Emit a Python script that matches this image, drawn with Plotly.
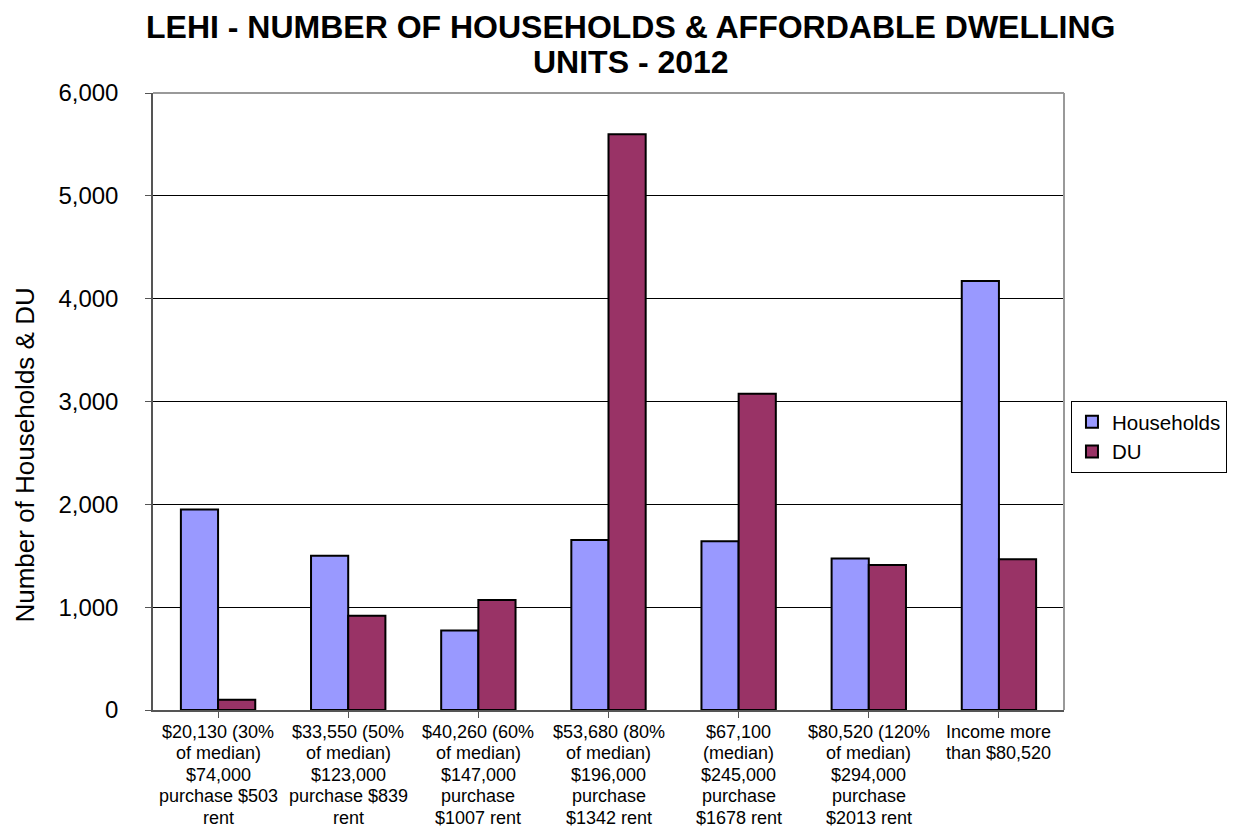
import plotly.graph_objects as go

category_lines = [
    ["$20,130 (30%", "of median)", "$74,000", "purchase $503", "rent"],
    ["$33,550 (50%", "of median)", "$123,000", "purchase $839", "rent"],
    ["$40,260 (60%", "of median)", "$147,000", "purchase", "$1007 rent"],
    ["$53,680 (80%", "of median)", "$196,000", "purchase", "$1342 rent"],
    ["$67,100", "(median)", "$245,000", "purchase", "$1678 rent"],
    ["$80,520 (120%", "of median)", "$294,000", "purchase", "$2013 rent"],
    ["Income more", "than $80,520"],
]
households = [1950, 1500, 772, 1652, 1642, 1474, 4172]
du = [100, 916, 1069, 5600, 3075, 1409, 1467]
yticks = [0, 1000, 2000, 3000, 4000, 5000, 6000]

FONT = "Liberation Sans, Arial, sans-serif"
xs = list(range(len(category_lines)))

fig = go.Figure()
fig.add_trace(go.Bar(x=xs, y=households, name="Households",
                     marker=dict(color="#9999FF", line=dict(color="black", width=2))))
fig.add_trace(go.Bar(x=xs, y=du, name="DU",
                     marker=dict(color="#993366", line=dict(color="black", width=2))))

W, H = 1239, 827
L, R, T, B = 153, 1068, 93, 710
pw, ph = R - L, B - T

def px(x):
    return (x - L) / pw

def py(y):
    return (B - y) / ph

annotations = [
    dict(text="<b>LEHI - NUMBER OF HOUSEHOLDS &amp; AFFORDABLE DWELLING</b>",
         xref="paper", yref="paper", x=px(633), y=py(27), xanchor="center", yanchor="middle",
         showarrow=False, font=dict(size=32, family=FONT, color="black")),
    dict(text="<b>UNITS - 2012</b>",
         xref="paper", yref="paper", x=px(633), y=py(62), xanchor="center", yanchor="middle",
         showarrow=False, font=dict(size=32, family=FONT, color="black")),
    dict(text="Number of Households &amp; DU", textangle=-90,
         xref="paper", yref="paper", x=px(24), y=py(455), xanchor="center", yanchor="middle",
         showarrow=False, font=dict(size=26, family=FONT, color="black")),
]
for i, lines in enumerate(category_lines):
    for j, line in enumerate(lines):
        annotations.append(dict(
            text=line, xref="x", yref="paper", x=i, y=py(732 + j * 21.4),
            xanchor="center", yanchor="middle", showarrow=False,
            font=dict(size=18, family=FONT, color="black")))

fig.update_layout(
    width=W, height=H,
    margin=dict(l=L, r=W - R, t=T, b=H - B, pad=0),
    paper_bgcolor="white", plot_bgcolor="white",
    barmode="group", bargap=0.4286, bargroupgap=0,
    font=dict(family=FONT, color="black"),
    showlegend=True,
    legend=dict(x=px(1075), y=py(401), xanchor="left", yanchor="top",
                bordercolor="black", borderwidth=1, bgcolor="white",
                font=dict(size=20.5, family=FONT), itemwidth=30,
                tracegroupgap=0),
    xaxis=dict(
        tickmode="array", tickvals=xs, ticktext=["" for _ in xs],
        range=[-0.5, len(xs) - 0.5], automargin=False,
        showline=True, linecolor="#555555", linewidth=1.5,
        ticks="outside", ticklen=6, tickcolor="#555555", tickson="boundaries",
        showgrid=False, zeroline=False,
    ),
    yaxis=dict(
        range=[0, 6000], tickmode="array", tickvals=yticks,
        tickformat=",d", automargin=False,
        tickfont=dict(size=24, family=FONT),
        showline=True, linecolor="#555555", linewidth=1.5,
        ticks="outside", ticklen=6, tickcolor="#555555",
        showgrid=True, gridcolor="black", gridwidth=1,
        zeroline=False, ticklabelstandoff=22,
    ),
    shapes=[
        dict(type="line", xref="paper", yref="paper", x0=0, x1=1, y0=1, y1=1,
             line=dict(color="#999999", width=2)),
        dict(type="line", xref="paper", yref="paper", x0=1, x1=1, y0=0, y1=1,
             line=dict(color="#999999", width=2)),
    ],
    annotations=annotations,
)

fig.write_html("out.html", config={"displayModeBar": False},
               post_script="document.body.style.margin='0';document.body.style.overflow='hidden';")
